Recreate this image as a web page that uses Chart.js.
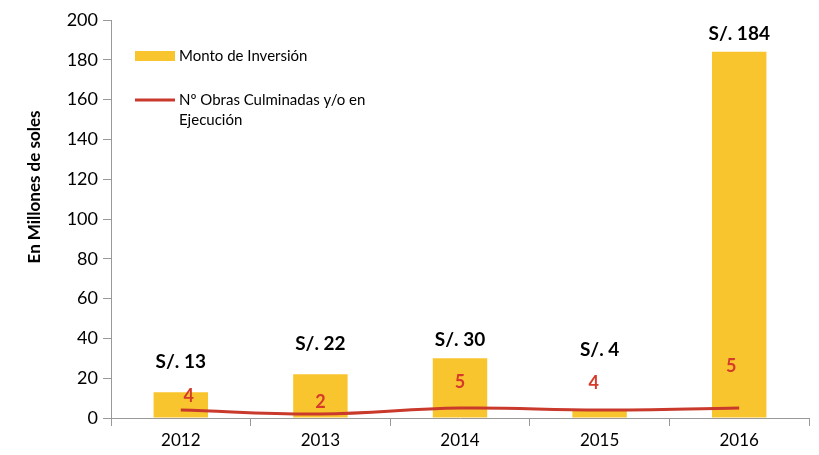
<!DOCTYPE html>
<html>
<head>
<meta charset="utf-8">
<script src="https://cdn.jsdelivr.net/npm/chart.js@4/dist/chart.umd.min.js"></script>
<style>
  html, body { margin: 0; padding: 0; background: #fff; }
  #wrap { width: 819px; height: 455px; }
</style>
</head>
<body>
<div id="wrap"><canvas id="chart" width="819" height="455"></canvas></div>
<script>
const years = ["2012", "2013", "2014", "2015", "2016"];
const inversion = [13, 22, 30, 4, 184];
const obras = [4, 2, 5, 4, 5];
const yTicks = [0, 20, 40, 60, 80, 100, 120, 140, 160, 180, 200];

const barColor = "#F9C52F";
const lineColor = "#C9392C";
const font = "Lato, 'Open Sans', sans-serif";

// labels above bars and line (lift in px, as placed in the original)
const barLift = [30, 30, 18, 60, 18];
const lineLift = [14, 12, 26, 27, 42];
const lineShift = [8, 0, 0, -6, -8];

const labelsPlugin = {
    id: "labels",
    afterDatasetsDraw(chart) {
        const ctx = chart.ctx;
        const barMeta = chart.getDatasetMeta(0);
        const lineMeta = chart.getDatasetMeta(1);
        ctx.save();
        ctx.textAlign = "center";
        ctx.textBaseline = "middle";
        ctx.font = "bold 19px " + font;
        ctx.fillStyle = "#000";
        barMeta.data.forEach((bar, i) => {
            ctx.fillText("S/. " + inversion[i], bar.x, bar.y - barLift[i]);
        });
        ctx.font = "bold 18px " + font;
        ctx.fillStyle = "#D63A2A";
        lineMeta.data.forEach((pt, i) => {
            ctx.fillText(String(obras[i]), pt.x + lineShift[i], pt.y - lineLift[i]);
        });
        ctx.restore();
    }
};

const legendPlugin = {
    id: "customLegend",
    afterDraw(chart) {
        const ctx = chart.ctx;
        ctx.save();
        ctx.font = "15px " + font;
        ctx.textBaseline = "middle";
        ctx.fillStyle = barColor;
        ctx.fillRect(135, 51, 40, 10);
        ctx.fillStyle = "#000";
        ctx.fillText(chart.data.datasets[0].label, 179, 56);
        ctx.strokeStyle = lineColor;
        ctx.lineWidth = 3;
        ctx.beginPath();
        ctx.moveTo(135, 100);
        ctx.lineTo(175, 100);
        ctx.stroke();
        const parts = chart.data.datasets[1].label.split("|");
        ctx.fillText(parts[0], 179, 100);
        ctx.fillText(parts[1], 179, 120);

        // y axis title
        ctx.translate(35, 187);
        ctx.rotate(-Math.PI / 2);
        ctx.textAlign = "center";
        ctx.font = "bold 17px " + font;
        ctx.fillText("En Millones de soles", 0, 0);
        ctx.restore();
    }
};

new Chart(document.getElementById("chart").getContext("2d"), {
    data: {
        labels: years,
        datasets: [
            {
                type: "bar",
                label: "Monto de Inversión",
                data: inversion,
                backgroundColor: barColor,
                barPercentage: 0.39,
                categoryPercentage: 1,
                order: 2
            },
            {
                type: "line",
                label: "Nº Obras Culminadas y/o en|Ejecución",
                data: obras,
                borderColor: lineColor,
                borderWidth: 3,
                tension: 0.4,
                pointRadius: 0,
                order: 1
            }
        ]
    },
    options: {
        responsive: false,
        animation: false,
        layout: { padding: { top: 20, right: 10, left: 0, bottom: 0 } },
        plugins: {
            legend: { display: false },
            tooltip: { enabled: false }
        },
        scales: {
            x: {
                grid: { offset: true, drawOnChartArea: false, tickLength: 8, color: "#999" },
                border: { color: "#999" },
                ticks: { color: "#000", font: { family: font, size: 17 }, padding: 4 },
                afterFit: (s) => { s.height = 37; }
            },
            y: {
                min: 0,
                max: 200,
                afterBuildTicks: (s) => { s.ticks = yTicks.map(v => ({ value: v })); },
                grid: { drawOnChartArea: false, tickLength: 8, color: "#999" },
                border: { color: "#999" },
                ticks: { color: "#000", font: { family: font, size: 18 }, padding: 5 },
                afterFit: (s) => { s.width = 111; }
            }
        }
    },
    plugins: [labelsPlugin, legendPlugin]
});
</script>
</body>
</html>
